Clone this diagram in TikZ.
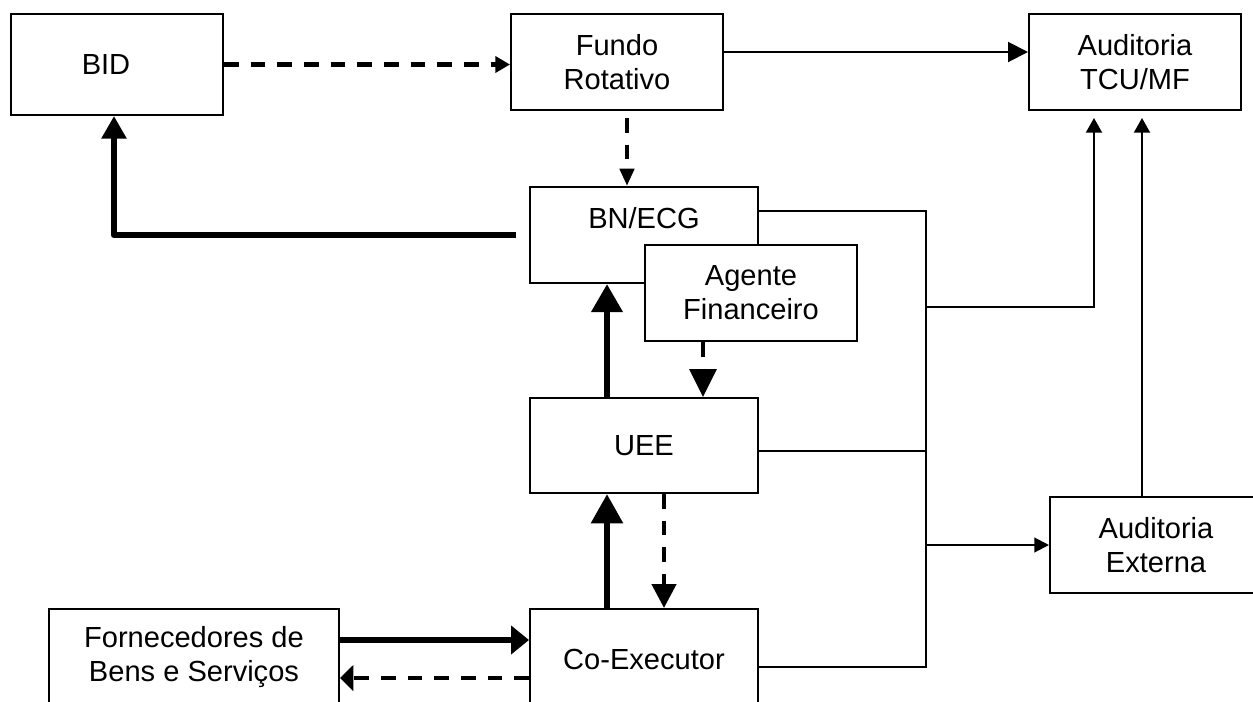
\documentclass[tikz,border=0pt]{standalone}
\usepackage{fontspec}
\setmainfont{Liberation Sans}
\usetikzlibrary{arrows.meta,calc}
\begin{document}
\begin{tikzpicture}[x=0.75pt,y=-0.75pt,
  box/.style={draw, line width=1.5pt, inner sep=0pt, align=center,
    font=\fontsize{21.8pt}{25.5pt}\selectfont},
  thinline/.style={line width=1.5pt},
  thickline/.style={line width=5pt, line join=round},
  dashline/.style={line width=3.4pt, dash pattern=on 11pt off 9pt},
]
\path[use as bounding box] (0,0) rectangle (1253,701);
\fill[white] (0,0) rectangle (1253,701);
\clip (0,0) rectangle (1253,701);

% boxes
\node[box, minimum width=159pt, minimum height=75.75pt] (bid) at (117,64.5) {BID\hspace*{16.5pt}};
\node[box, minimum width=159pt, minimum height=72pt] (fundo) at (617,62) {Fundo\\Rotativo};
\node[box, minimum width=159pt, minimum height=72pt] (tcu) at (1135,62) {Auditoria\\TCU/MF};
\node[box, minimum width=171pt, minimum height=72pt] (bn) at (644,235) {BN/ECG\\\mbox{}};
\node[box, fill=white, minimum width=159pt, minimum height=72pt] (ag) at (751,293) {Agente\\Financeiro};
\node[box, minimum width=171pt, minimum height=71.25pt] (uee) at (644,445.5) {UEE};
\node[box, minimum width=171pt, minimum height=75pt] (co) at (644,659) {Co-Executor};
\node[box, minimum width=217.5pt, minimum height=75pt] (fo) at (194,659) {Fornecedores de\\Bens e Serviços\\[-18pt]\mbox{}};
\node[box, minimum width=159pt, minimum height=72pt] (ext) at (1156,545) {Auditoria\\Externa};

% helper coordinates
\coordinate (f2) at ($(fundo.east)+(0,-10)$);
\coordinate (f3) at ($(fundo.south)+(10,7)$);
\coordinate (bnl) at ($(bn.west)+(-13,0)$);
\coordinate (bidb) at ($(bid.south)+(-3,0)$);
\coordinate (u3) at ($(uee.north)+(-37,0)$);
\coordinate (a1) at ($(ag.south)+(-48,0)$);
\coordinate (c1) at ($(co.north)+(-37,0)$);
\coordinate (u1) at ($(uee.south)+(20,0)$);
\coordinate (f1) at ($(fo.east)+(0,-19)$);
\coordinate (c2) at ($(co.west)+(0,19)$);
\coordinate (b1) at ($(bn.east)+(0,-24)$);
\coordinate (bustop) at (926,211);
\coordinate (c3) at ($(co.east)+(0,8)$);
\coordinate (u2) at ($(uee.east)+(0,5.5)$);
\coordinate (j1) at (926,307);
\coordinate (t1) at ($(tcu.south)+(-41,7)$);
\coordinate (e1) at ($(ext.north)+(-14,0)$);

% connectors
\draw[dashline, -{Triangle[length=11pt,width=12pt]}] (bid.east) -- (bid.east -| fundo.west);
\draw[thinline, -{Triangle[length=15pt,width=15pt]}] (f2) -- (f2 -| tcu.west);
\draw[dashline, -{Triangle[length=13pt,width=10.5pt]}] (f3) -- (f3 |- bn.north);
\draw[thickline, -{Triangle[length=17pt,width=18pt]}] (bnl) -| (bidb);
\draw[thickline, -{Triangle[length=21pt,width=22.5pt]}] (u3) -- (u3 |- bn.south);
\draw[dashline, -{Triangle[length=21pt,width=20pt]}] (a1) -- (a1 |- uee.north);
\draw[thickline, -{Triangle[length=22pt,width=23pt]}] (c1) -- (c1 |- uee.south);
\draw[dashline, -{Triangle[length=18pt,width=18pt]}] (u1) -- (u1 |- co.north);
\draw[thickline, -{Triangle[length=13.5pt,width=21pt]}] (f1) -- (f1 -| co.west);
\draw[dashline, -{Triangle[length=10pt,width=19pt]}] (c2) -- (c2 -| fo.east);

\draw[thinline] (b1) -- (bustop) |- (c3);
\draw[thinline] (u2) -- (u2 -| bustop);
\draw[thinline, -{Triangle[length=11pt,width=12pt]}] (j1) -| (t1);
\draw[thinline, -{Triangle[length=11pt,width=11pt]}] (bustop |- ext.west) -- (ext.west);
\draw[thinline, -{Triangle[length=11pt,width=12pt]}] (e1) -- (e1 |- t1);
\end{tikzpicture}
\end{document}
